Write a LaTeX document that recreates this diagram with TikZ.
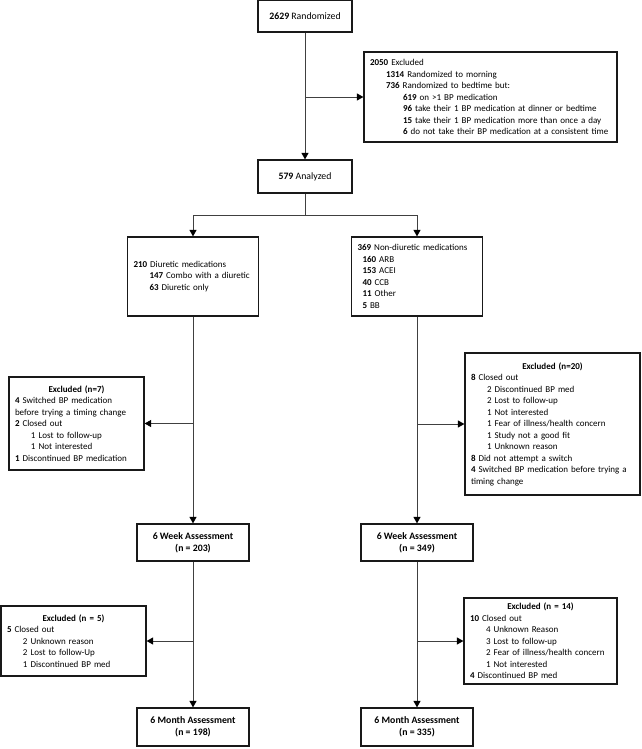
\documentclass[tikz,border=0pt]{standalone}
\usepackage{fontspec}
\setmainfont{Carlito}
\usetikzlibrary{arrows.meta,positioning}

\newcommand{\lvlone}{\hspace*{16pt}}
\newcommand{\lvltwo}{\hspace*{33pt}}

\begin{document}
\begin{tikzpicture}[x=1pt, y=-1pt,
        box/.style={rectangle, draw=black!90, line width=1.2pt, fill=white, inner xsep=6pt, inner ysep=2pt, font=\fontsize{9}{11.5}\selectfont},
        mainbox/.style={box, align=center, minimum width=112pt, minimum height=37pt, font=\fontsize{9.8}{12}\selectfont},
        listbox/.style={box, align=left},
        arrow/.style={->, >={Triangle[width=7pt,length=6.5pt,color=black]}, black!75, line width=0.9pt},
        line/.style={black!75, line width=0.9pt}
    ]
        \useasboundingbox (0,0) rectangle (642,749);

        % Boxes
        \node[mainbox, minimum width=94pt, minimum height=32pt] (rand) at (305,16) {\textbf{2629} Randomized};

        \node[listbox, text width=241pt, minimum height=90pt] (excl0) at (490.5,97) {\textbf{2050} Excluded\\
            \lvlone\textbf{1314} Randomized to morning\\
            \lvlone\textbf{736} Randomized to bedtime but:\\
            \lvltwo\textbf{619} on >1 BP medication\\
            \lvltwo\textbf{96} take their 1 BP medication at dinner or bedtime\\
            \lvltwo\textbf{15} take their 1 BP medication more than once a day\\
            \lvltwo\textbf{6} do not take their BP medication at a consistent time};

        \node[mainbox, minimum width=94pt, minimum height=33pt] (analyzed) at (305,176.5) {\textbf{579} Analyzed};

        \node[listbox, text width=119pt, minimum height=79pt] (diur) at (193,276.5) {\textbf{210} Diuretic medications\\
            \lvlone\textbf{147} Combo with a diuretic\\
            \lvlone\textbf{63} Diuretic only};

        \node[listbox, text width=119pt, minimum height=79pt] (nondiur) at (417,276.5) {\textbf{369} Non-diuretic medications\\
            \hspace*{5pt}\textbf{160} ARB\\
            \hspace*{5pt}\textbf{153} ACEI\\
            \hspace*{5pt}\textbf{40} CCB\\
            \hspace*{5pt}\textbf{11} Other\\
            \hspace*{5pt}\textbf{5} BB};

        \node[listbox, text width=123pt, minimum height=93pt] (excl7) at (76.5,423.5) {\makebox[\hsize]{\textbf{Excluded (n=7)}}\\
            \textbf{4} Switched BP medication\\
            before trying a timing change\\
            \textbf{2} Closed out\\
            \lvlone 1 Lost to follow-up\\
            \lvlone 1 Not interested\\
            \textbf{1} Discontinued BP medication};

        \node[listbox, text width=163pt, minimum height=142pt] (excl20) at (552.5,424) {\makebox[\hsize]{\textbf{Excluded (n=20)}}\\
            \textbf{8} Closed out\\
            \lvlone 2 Discontinued BP med\\
            \lvlone 2 Lost to follow-up\\
            \lvlone 1 Not interested\\
            \lvlone 1 Fear of illness/health concern\\
            \lvlone 1 Study not a good fit\\
            \lvlone 1 Unknown reason\\
            \textbf{8} Did not attempt a switch\\
            \textbf{4} Switched BP medication before trying a\\
            timing change};

        \node[mainbox] (weekL) at (193,542.5) {\textbf{6 Week Assessment}\\ \textbf{(n = 203)}};
        \node[mainbox] (weekR) at (417,542.5) {\textbf{6 Week Assessment}\\ \textbf{(n = 349)}};

        \node[listbox, text width=133pt, minimum height=70pt] (excl5) at (73.5,641) {\makebox[\hsize]{\textbf{Excluded (n = 5)}}\\
            \textbf{5} Closed out\\
            \lvlone 2 Unknown reason\\
            \lvlone 2 Lost to follow-Up\\
            \lvlone 1 Discontinued BP med};

        \node[listbox, text width=141pt, minimum height=86pt] (excl14) at (540.5,641) {\makebox[\hsize]{\textbf{Excluded (n = 14)}}\\
            \textbf{10} Closed out\\
            \lvlone 4 Unknown Reason\\
            \lvlone 3 Lost to follow-up\\
            \lvlone 2 Fear of illness/health concern\\
            \lvlone 1 Not interested\\
            \textbf{4} Discontinued BP med};

        \node[mainbox, minimum height=38pt] (monthL) at (193,727) {\textbf{6 Month Assessment}\\ \textbf{(n = 198)}};
        \node[mainbox, minimum height=38pt] (monthR) at (417,727) {\textbf{6 Month Assessment}\\ \textbf{(n = 335)}};

        % Branch points
        \coordinate (split) at (305,215);
        \coordinate (b0) at (rand.south |- excl0.west);
        \coordinate (b1) at (diur.south |- excl7.east);
        \coordinate (b2) at (nondiur.south |- excl20.west);
        \coordinate (b3) at (weekL.south |- excl5.east);
        \coordinate (b4) at (weekR.south |- excl14.west);

        % Arrows
        \draw[arrow] (rand.south) -- (analyzed.north);
        \draw[arrow] (b0) -- (excl0.west);
        \draw[line] (analyzed.south) -- (split);
        \draw[arrow] (split) -| (diur.north);
        \draw[arrow] (split) -| (nondiur.north);
        \draw[arrow] (diur.south) -- (weekL.north);
        \draw[arrow] (b1) -- (excl7.east);
        \draw[arrow] (nondiur.south) -- (weekR.north);
        \draw[arrow] (b2) -- (excl20.west);
        \draw[arrow] (weekL.south) -- (monthL.north);
        \draw[arrow] (b3) -- (excl5.east);
        \draw[arrow] (weekR.south) -- (monthR.north);
        \draw[arrow] (b4) -- (excl14.west);
    \end{tikzpicture}
\end{document}
